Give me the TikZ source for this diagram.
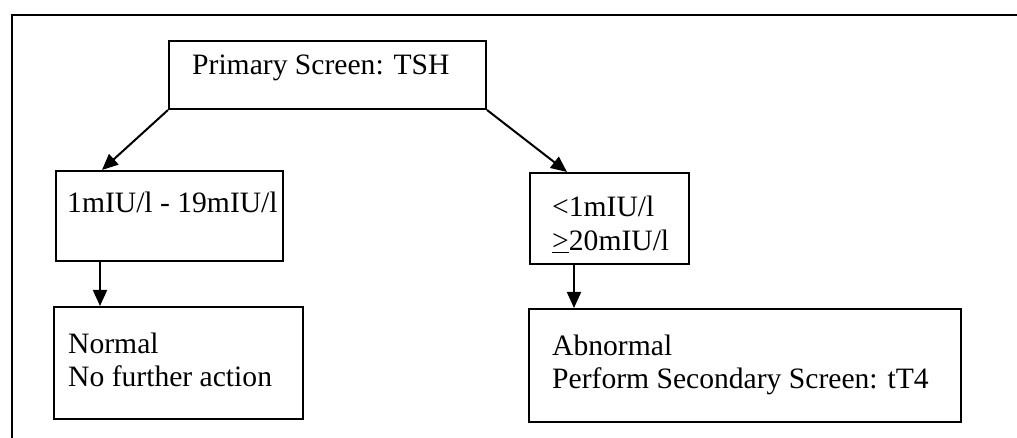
\documentclass[tikz,border=0pt]{standalone}
\usepackage{fontspec}
\setmainfont{Liberation Serif}
\usetikzlibrary{arrows.meta}
\begin{document}
\begin{tikzpicture}[x=1pt,y=-1pt,
  box/.style={draw, line width=2pt, rectangle, inner sep=0pt, anchor=north west},
  lbl/.style={anchor=base west, inner sep=0pt, font=\fontsize{29.6}{33.5}\selectfont},
  conn/.style={line width=2pt, -{Triangle[length=16pt,width=14pt]}}]
\useasboundingbox (0,0) rectangle (1017,438);

% open frame: left and top edges only
\draw[line width=2pt] (12,460) -- (12,15) -- (1040,15);

% boxes
\node[box, minimum width=317pt, minimum height=68pt] (top)  at (168,40)  {};
\node[box, minimum width=227pt, minimum height=90pt] (lmid) at (55,170)  {};
\node[box, minimum width=159pt, minimum height=91pt] (rmid) at (529,172) {};
\node[box, minimum width=249pt, minimum height=112pt] (lbot) at (53,306) {};
\node[box, minimum width=432pt, minimum height=113pt] (rbot) at (528,308) {};

% texts
\node[lbl] (ttop)  at (192,75)  {Primary Screen: TSH};
\node[lbl] (tlmid) at (67,213)  {1mIU/l - 19mIU/l};
\node[lbl] (trmid) at (552,217) {\begin{tabular}[t]{@{}l@{}}<1mIU/l\\\underline{>}20mIU/l\end{tabular}};
\node[lbl] (tlbot) at (68,353)  {\begin{tabular}[t]{@{}l@{}}Normal\\No further action\end{tabular}};
\node[lbl] (trbot) at (552,355) {\begin{tabular}[t]{@{}l@{}}Abnormal\\Perform Secondary Screen: tT4\end{tabular}};

% connectors
\draw[conn] (top.south west) -- ([xshift=47pt]lmid.north west);
\draw[conn] (top.south east) -- ([xshift=38pt]rmid.north west);
\draw[conn] ([xshift=45pt]lmid.south west) -- ([xshift=47pt]lbot.north west);
\draw[conn] ([xshift=45pt]rmid.south west) -- ([xshift=46pt]rbot.north west);
\end{tikzpicture}
\end{document}
